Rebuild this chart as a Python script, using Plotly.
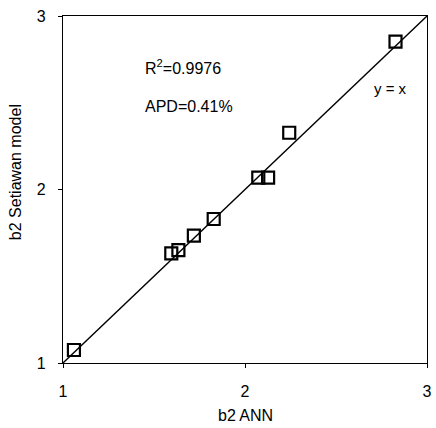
import plotly.graph_objects as go

ann_b2 = [1.060, 1.595, 1.634, 1.719, 1.828, 2.073, 2.127, 2.243, 2.827]
setiawan_b2 = [1.075, 1.632, 1.651, 1.734, 1.830, 2.069, 2.069, 2.327, 2.852]
line_xy = [1, 3]
tick_vals = [1, 2, 3]
tick_text = ["1", "2", "3"]

FONT = "Liberation Sans, Arial, sans-serif"

fig = go.Figure()
fig.add_trace(go.Scatter(x=line_xy, y=line_xy, mode="lines",
                         line=dict(color="black", width=1.4), showlegend=False, hoverinfo="skip"))
fig.add_trace(go.Scatter(x=ann_b2, y=setiawan_b2, mode="markers",
                         marker=dict(symbol="square-open", size=12, color="black",
                                     line=dict(width=2.2, color="black")),
                         showlegend=False))

axis_common = dict(range=[1, 3], tickvals=tick_vals, ticktext=tick_text,
                   showgrid=False, zeroline=False, showline=True, linecolor="black",
                   linewidth=1.3, mirror=True, ticks="outside", ticklen=4,
                   tickcolor="black", ticklabeloverflow="allow",
                   tickfont=dict(family=FONT, size=16, color="black"))

fig.update_layout(
    width=436, height=428,
    margin=dict(l=63, r=4, t=16, b=65),
    plot_bgcolor="white", paper_bgcolor="white",
    font=dict(family=FONT, size=16, color="black"),
    xaxis=dict(**axis_common, ticklabelstandoff=10),
    yaxis=dict(**axis_common, ticklabelstandoff=9),
    annotations=[
        dict(x=0.5, y=0, xref="paper", yref="paper", text="b2 ANN", showarrow=False,
             xanchor="center", yanchor="middle", yshift=-52, font=dict(family=FONT, size=16)),
        dict(x=0, y=0.55, xref="paper", yref="paper", text="b2 Setiawan model", showarrow=False,
             xanchor="center", yanchor="middle", xshift=-48, textangle=-90,
             font=dict(family=FONT, size=16)),
        dict(x=1.439, y=2.706, xref="x", yref="y", text="R<sup>2</sup>=0.9976", showarrow=False,
             xanchor="left", yanchor="middle", font=dict(family=FONT, size=16)),
        dict(x=1.439, y=2.48, xref="x", yref="y", text="APD=0.41%", showarrow=False,
             xanchor="left", yanchor="middle", font=dict(family=FONT, size=16)),
        dict(x=2.697, y=2.585, xref="x", yref="y", text="y = x", showarrow=False,
             xanchor="left", yanchor="middle", font=dict(family=FONT, size=15)),
    ],
)

fig.write_html("out.html")
